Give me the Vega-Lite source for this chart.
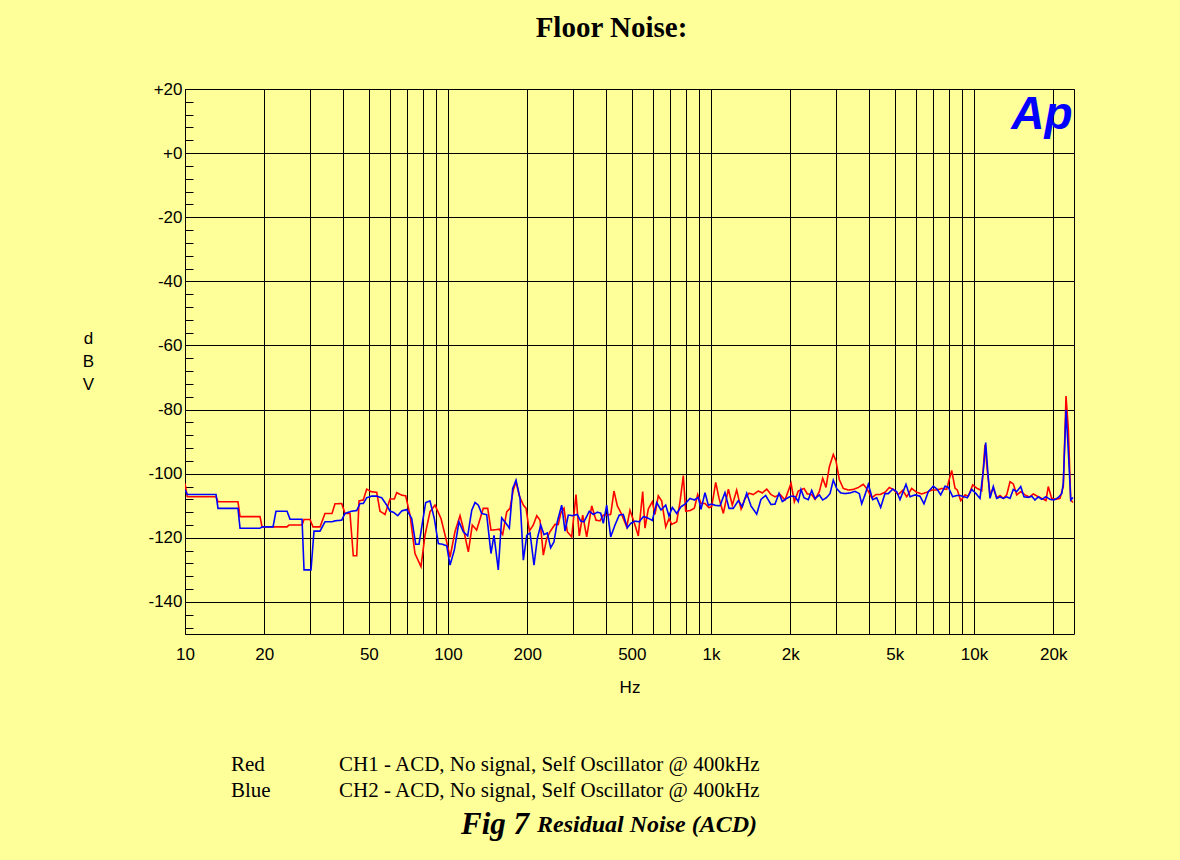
{
  "$schema": "https://vega.github.io/schema/vega-lite/v6.json",
  "autosize": "none",
  "width": 889,
  "height": 545,
  "padding": {"left": 185, "top": 89, "right": 106, "bottom": 226},
  "background": "#FFFF99",
  "title": {"text": "Floor Noise:", "font": "Liberation Serif", "fontSize": 29, "fontWeight": "bold", "color": "black", "anchor": "middle", "frame": "group", "offset": 37, "dx": -18},
  "config": {
    "view": {"stroke": "black", "strokeWidth": 1, "fill": "#FFFF99"},
    "axis": {"labelFont": "Liberation Sans", "labelFontSize": 17, "labelColor": "black", "titleFont": "Liberation Sans", "titleFontSize": 17, "titleFontWeight": "normal", "titleColor": "black", "domainColor": "black", "gridColor": "black", "gridWidth": 1, "gridOpacity": 1, "tickColor": "black"},
    "legend": {"padding": 0}
  },
  "layer": [
    {
      "data": {"values": [
        {"ch":"CH1","f":10,"db":-103},{"ch":"CH1","f":10.2,"db":-107.2},{"ch":"CH1","f":13.12,"db":-107.2},{"ch":"CH1","f":13.35,"db":-108.75},{"ch":"CH1","f":15.9,"db":-108.75},{"ch":"CH1","f":16.19,"db":-113.4},{"ch":"CH1","f":19.29,"db":-113.4},{"ch":"CH1","f":19.63,"db":-116.6},{"ch":"CH1","f":24.43,"db":-116.6},{"ch":"CH1","f":24.86,"db":-116},{"ch":"CH1","f":27.86,"db":-116},{"ch":"CH1","f":28.35,"db":-114.3},{"ch":"CH1","f":29.88,"db":-114.3},{"ch":"CH1","f":30.67,"db":-116.6},{"ch":"CH1","f":32.61,"db":-116.6},{"ch":"CH1","f":34.07,"db":-112.4},{"ch":"CH1","f":36.22,"db":-112.4},{"ch":"CH1","f":37.18,"db":-109.4},{"ch":"CH1","f":39.42,"db":-109.3},{"ch":"CH1","f":40.58,"db":-112.4},{"ch":"CH1","f":42.4,"db":-112.4},{"ch":"CH1","f":43.64,"db":-125.6},{"ch":"CH1","f":44.97,"db":-125.6},{"ch":"CH1","f":45.88,"db":-108.5},{"ch":"CH1","f":47.64,"db":-108.2},{"ch":"CH1","f":49.08,"db":-104.8},{"ch":"CH1","f":50.96,"db":-105.6},{"ch":"CH1","f":53.57,"db":-105.8},{"ch":"CH1","f":55.14,"db":-111.7},{"ch":"CH1","f":57.61,"db":-112.7},{"ch":"CH1","f":60.19,"db":-107.9},{"ch":"CH1","f":62.5,"db":-107.9},{"ch":"CH1","f":63.83,"db":-105.9},{"ch":"CH1","f":66.68,"db":-106.7},{"ch":"CH1","f":69.05,"db":-106.9},{"ch":"CH1","f":71.7,"db":-112.9},{"ch":"CH1","f":74.9,"db":-124.9},{"ch":"CH1","f":78.94,"db":-129},{"ch":"CH1","f":81.75,"db":-119.2},{"ch":"CH1","f":85.42,"db":-111.9},{"ch":"CH1","f":89.25,"db":-109.8},{"ch":"CH1","f":94.07,"db":-114},{"ch":"CH1","f":98.88,"db":-121.25},{"ch":"CH1","f":101.8,"db":-126},{"ch":"CH1","f":106.3,"db":-118.1},{"ch":"CH1","f":111.1,"db":-113.1},{"ch":"CH1","f":114.3,"db":-117},{"ch":"CH1","f":119.5,"db":-124.4},{"ch":"CH1","f":123.7,"db":-116},{"ch":"CH1","f":128.5,"db":-117.6},{"ch":"CH1","f":136.2,"db":-110.8},{"ch":"CH1","f":141.6,"db":-110.8},{"ch":"CH1","f":145.7,"db":-117.6},{"ch":"CH1","f":150.9,"db":-117.5},{"ch":"CH1","f":156.7,"db":-117.3},{"ch":"CH1","f":161.4,"db":-119},{"ch":"CH1","f":167.2,"db":-111.9},{"ch":"CH1","f":172.1,"db":-110.8},{"ch":"CH1","f":177.1,"db":-105.1},{"ch":"CH1","f":181.4,"db":-102.5},{"ch":"CH1","f":186.7,"db":-106.9},{"ch":"CH1","f":193.4,"db":-109.8},{"ch":"CH1","f":198.1,"db":-110.8},{"ch":"CH1","f":203.8,"db":-117.9},{"ch":"CH1","f":211,"db":-116},{"ch":"CH1","f":217.5,"db":-113.1},{"ch":"CH1","f":223.8,"db":-114.5},{"ch":"CH1","f":230.4,"db":-125.4},{"ch":"CH1","f":237.3,"db":-120.2},{"ch":"CH1","f":244.2,"db":-118.1},{"ch":"CH1","f":255.1,"db":-115.8},{"ch":"CH1","f":262.6,"db":-115.8},{"ch":"CH1","f":268.2,"db":-112.4},{"ch":"CH1","f":276.1,"db":-110.8},{"ch":"CH1","f":284.2,"db":-118.1},{"ch":"CH1","f":295.3,"db":-119.7},{"ch":"CH1","f":306.7,"db":-106.5},{"ch":"CH1","f":315.6,"db":-119.4},{"ch":"CH1","f":325.2,"db":-112.9},{"ch":"CH1","f":336.8,"db":-119.7},{"ch":"CH1","f":351.9,"db":-110},{"ch":"CH1","f":365.4,"db":-114.5},{"ch":"CH1","f":378.4,"db":-114.7},{"ch":"CH1","f":389.5,"db":-112.9},{"ch":"CH1","f":401.2,"db":-112.9},{"ch":"CH1","f":415.5,"db":-112.7},{"ch":"CH1","f":427.7,"db":-105.4},{"ch":"CH1","f":440.3,"db":-110},{"ch":"CH1","f":457.6,"db":-112.7},{"ch":"CH1","f":478.1,"db":-116.6},{"ch":"CH1","f":492,"db":-111.4},{"ch":"CH1","f":509.5,"db":-115},{"ch":"CH1","f":529.1,"db":-119.4},{"ch":"CH1","f":549.9,"db":-105.6},{"ch":"CH1","f":561,"db":-117},{"ch":"CH1","f":577.6,"db":-111},{"ch":"CH1","f":598.2,"db":-108.75},{"ch":"CH1","f":612.5,"db":-112.7},{"ch":"CH1","f":630.4,"db":-106.9},{"ch":"CH1","f":649.4,"db":-108.5},{"ch":"CH1","f":672.7,"db":-116.6},{"ch":"CH1","f":692.3,"db":-114},{"ch":"CH1","f":708.9,"db":-115.8},{"ch":"CH1","f":740.6,"db":-115},{"ch":"CH1","f":762.3,"db":-108.75},{"ch":"CH1","f":784.7,"db":-100.6},{"ch":"CH1","f":801.3,"db":-111.7},{"ch":"CH1","f":832.1,"db":-111.5},{"ch":"CH1","f":864,"db":-110.8},{"ch":"CH1","f":890.1,"db":-106.5},{"ch":"CH1","f":916.2,"db":-109.3},{"ch":"CH1","f":948.8,"db":-109.3},{"ch":"CH1","f":982.6,"db":-110.6},{"ch":"CH1","f":1006,"db":-110.3},{"ch":"CH1","f":1042,"db":-102.7},{"ch":"CH1","f":1073,"db":-107.7},{"ch":"CH1","f":1114,"db":-112.4},{"ch":"CH1","f":1164,"db":-104.8},{"ch":"CH1","f":1205,"db":-109.8},{"ch":"CH1","f":1252,"db":-105.1},{"ch":"CH1","f":1301,"db":-111},{"ch":"CH1","f":1347,"db":-107.7},{"ch":"CH1","f":1395,"db":-106.1},{"ch":"CH1","f":1448,"db":-106.5},{"ch":"CH1","f":1513,"db":-105.4},{"ch":"CH1","f":1567,"db":-106},{"ch":"CH1","f":1629,"db":-104.8},{"ch":"CH1","f":1691,"db":-106.5},{"ch":"CH1","f":1751,"db":-107.2},{"ch":"CH1","f":1830,"db":-106.5},{"ch":"CH1","f":1911,"db":-108.2},{"ch":"CH1","f":2015,"db":-103},{"ch":"CH1","f":2074,"db":-108.75},{"ch":"CH1","f":2147,"db":-105.4},{"ch":"CH1","f":2258,"db":-104.6},{"ch":"CH1","f":2324,"db":-106.3},{"ch":"CH1","f":2415,"db":-106.5},{"ch":"CH1","f":2486,"db":-108},{"ch":"CH1","f":2581,"db":-105.6},{"ch":"CH1","f":2659,"db":-101.4},{"ch":"CH1","f":2737,"db":-104.3},{"ch":"CH1","f":2817,"db":-97.9},{"ch":"CH1","f":2917,"db":-94},{"ch":"CH1","f":2987,"db":-96},{"ch":"CH1","f":3074,"db":-101.8},{"ch":"CH1","f":3184,"db":-104.6},{"ch":"CH1","f":3327,"db":-105.1},{"ch":"CH1","f":3476,"db":-104.9},{"ch":"CH1","f":3631,"db":-104.3},{"ch":"CH1","f":3794,"db":-103.3},{"ch":"CH1","f":3929,"db":-104.9},{"ch":"CH1","f":4083,"db":-107.5},{"ch":"CH1","f":4240,"db":-106.5},{"ch":"CH1","f":4391,"db":-106.5},{"ch":"CH1","f":4587,"db":-105.8},{"ch":"CH1","f":4763,"db":-104.3},{"ch":"CH1","f":4933,"db":-104.9},{"ch":"CH1","f":5154,"db":-106.5},{"ch":"CH1","f":5357,"db":-105.2},{"ch":"CH1","f":5548,"db":-107.2},{"ch":"CH1","f":5796,"db":-104.6},{"ch":"CH1","f":6055,"db":-105.8},{"ch":"CH1","f":6326,"db":-106.3},{"ch":"CH1","f":6609,"db":-105.8},{"ch":"CH1","f":6905,"db":-105.1},{"ch":"CH1","f":7214,"db":-105.1},{"ch":"CH1","f":7537,"db":-104.6},{"ch":"CH1","f":7874,"db":-104.9},{"ch":"CH1","f":8056,"db":-101.7},{"ch":"CH1","f":8226,"db":-99},{"ch":"CH1","f":8469,"db":-104.5},{"ch":"CH1","f":8641,"db":-105.1},{"ch":"CH1","f":8901,"db":-108.4},{"ch":"CH1","f":9243,"db":-106.6},{"ch":"CH1","f":9513,"db":-107},{"ch":"CH1","f":9888,"db":-103.5},{"ch":"CH1","f":10240,"db":-104.5},{"ch":"CH1","f":10698,"db":-105.3},{"ch":"CH1","f":11010,"db":-91},{"ch":"CH1","f":11235,"db":-99},{"ch":"CH1","f":11502,"db":-106.6},{"ch":"CH1","f":11841,"db":-104.5},{"ch":"CH1","f":12198,"db":-107.5},{"ch":"CH1","f":12557,"db":-106.8},{"ch":"CH1","f":12925,"db":-107.7},{"ch":"CH1","f":13316,"db":-106.6},{"ch":"CH1","f":13707,"db":-102.5},{"ch":"CH1","f":14108,"db":-103.2},{"ch":"CH1","f":14536,"db":-106.6},{"ch":"CH1","f":15054,"db":-105.6},{"ch":"CH1","f":15629,"db":-106.6},{"ch":"CH1","f":16229,"db":-107.3},{"ch":"CH1","f":16807,"db":-106.3},{"ch":"CH1","f":17405,"db":-107},{"ch":"CH1","f":18087,"db":-107.7},{"ch":"CH1","f":18783,"db":-108.4},{"ch":"CH1","f":19163,"db":-104},{"ch":"CH1","f":19742,"db":-107.7},{"ch":"CH1","f":20502,"db":-108},{"ch":"CH1","f":21232,"db":-107.7},{"ch":"CH1","f":21853,"db":-104},{"ch":"CH1","f":22379,"db":-75.8},{"ch":"CH1","f":22837,"db":-86},{"ch":"CH1","f":23321,"db":-108.2},{"ch":"CH1","f":23791,"db":-109},
        {"ch":"CH2","f":10,"db":-105},{"ch":"CH2","f":10.2,"db":-106.5},{"ch":"CH2","f":13.12,"db":-106.5},{"ch":"CH2","f":13.35,"db":-110.8},{"ch":"CH2","f":15.9,"db":-110.8},{"ch":"CH2","f":16.19,"db":-117},{"ch":"CH2","f":19.29,"db":-117},{"ch":"CH2","f":19.63,"db":-116.6},{"ch":"CH2","f":21.61,"db":-116.6},{"ch":"CH2","f":22.18,"db":-111.7},{"ch":"CH2","f":24.43,"db":-111.7},{"ch":"CH2","f":25.08,"db":-114.2},{"ch":"CH2","f":27.86,"db":-114.2},{"ch":"CH2","f":28.35,"db":-130},{"ch":"CH2","f":30.14,"db":-130},{"ch":"CH2","f":30.94,"db":-117.9},{"ch":"CH2","f":32.61,"db":-117.9},{"ch":"CH2","f":34.07,"db":-115},{"ch":"CH2","f":36.22,"db":-115},{"ch":"CH2","f":37.18,"db":-114.7},{"ch":"CH2","f":39.42,"db":-114.5},{"ch":"CH2","f":40.58,"db":-112.4},{"ch":"CH2","f":43.03,"db":-111.7},{"ch":"CH2","f":44.97,"db":-111.5},{"ch":"CH2","f":46.28,"db":-109.3},{"ch":"CH2","f":47.64,"db":-109.3},{"ch":"CH2","f":49.08,"db":-107.5},{"ch":"CH2","f":51.27,"db":-107},{"ch":"CH2","f":53.57,"db":-107},{"ch":"CH2","f":55.97,"db":-107.5},{"ch":"CH2","f":58.47,"db":-109.8},{"ch":"CH2","f":60.19,"db":-111.7},{"ch":"CH2","f":61.95,"db":-112},{"ch":"CH2","f":64.38,"db":-113.1},{"ch":"CH2","f":66.68,"db":-111.6},{"ch":"CH2","f":69.66,"db":-111.2},{"ch":"CH2","f":72.78,"db":-114},{"ch":"CH2","f":75.37,"db":-122},{"ch":"CH2","f":77.57,"db":-122},{"ch":"CH2","f":79.85,"db":-115.5},{"ch":"CH2","f":82.26,"db":-109},{"ch":"CH2","f":85.42,"db":-108.5},{"ch":"CH2","f":88.71,"db":-114},{"ch":"CH2","f":91.87,"db":-121.8},{"ch":"CH2","f":95.13,"db":-122},{"ch":"CH2","f":98.88,"db":-122.5},{"ch":"CH2","f":101.8,"db":-128.5},{"ch":"CH2","f":105.7,"db":-123.8},{"ch":"CH2","f":110.1,"db":-115},{"ch":"CH2","f":114.3,"db":-118.1},{"ch":"CH2","f":118.8,"db":-119.4},{"ch":"CH2","f":123.1,"db":-111.4},{"ch":"CH2","f":126.7,"db":-109},{"ch":"CH2","f":130.4,"db":-109.8},{"ch":"CH2","f":134.3,"db":-112.4},{"ch":"CH2","f":140.3,"db":-112.8},{"ch":"CH2","f":145.7,"db":-124.9},{"ch":"CH2","f":149.6,"db":-119.2},{"ch":"CH2","f":155.3,"db":-130},{"ch":"CH2","f":160,"db":-113.75},{"ch":"CH2","f":166.2,"db":-115.5},{"ch":"CH2","f":171.1,"db":-117},{"ch":"CH2","f":176.2,"db":-104.6},{"ch":"CH2","f":181.4,"db":-102},{"ch":"CH2","f":187.9,"db":-107.7},{"ch":"CH2","f":193.4,"db":-127},{"ch":"CH2","f":199.3,"db":-119.2},{"ch":"CH2","f":205.1,"db":-118.5},{"ch":"CH2","f":212.3,"db":-128.5},{"ch":"CH2","f":218.6,"db":-120.2},{"ch":"CH2","f":225.2,"db":-116},{"ch":"CH2","f":231.7,"db":-119},{"ch":"CH2","f":238.5,"db":-118.5},{"ch":"CH2","f":245.7,"db":-123.1},{"ch":"CH2","f":252.9,"db":-121.25},{"ch":"CH2","f":260.3,"db":-115},{"ch":"CH2","f":270.6,"db":-109.8},{"ch":"CH2","f":278.6,"db":-117.9},{"ch":"CH2","f":286.7,"db":-112.9},{"ch":"CH2","f":297.9,"db":-113.1},{"ch":"CH2","f":310.1,"db":-112.7},{"ch":"CH2","f":319.5,"db":-114.8},{"ch":"CH2","f":328.9,"db":-115},{"ch":"CH2","f":344.6,"db":-111.7},{"ch":"CH2","f":356.9,"db":-112.7},{"ch":"CH2","f":369.6,"db":-112},{"ch":"CH2","f":380.7,"db":-112.3},{"ch":"CH2","f":389.5,"db":-115.5},{"ch":"CH2","f":401.2,"db":-109.8},{"ch":"CH2","f":415.5,"db":-119.7},{"ch":"CH2","f":431.5,"db":-116},{"ch":"CH2","f":448,"db":-112.9},{"ch":"CH2","f":464,"db":-112.7},{"ch":"CH2","f":480.6,"db":-116.9},{"ch":"CH2","f":495.1,"db":-115.5},{"ch":"CH2","f":514,"db":-114.8},{"ch":"CH2","f":533.8,"db":-115},{"ch":"CH2","f":552.8,"db":-113.4},{"ch":"CH2","f":569.5,"db":-113.7},{"ch":"CH2","f":581.2,"db":-114},{"ch":"CH2","f":598.2,"db":-114.6},{"ch":"CH2","f":621.6,"db":-109},{"ch":"CH2","f":645.5,"db":-111.3},{"ch":"CH2","f":672.7,"db":-109.8},{"ch":"CH2","f":692.3,"db":-113.2},{"ch":"CH2","f":712.7,"db":-110.5},{"ch":"CH2","f":740.6,"db":-112.4},{"ch":"CH2","f":769,"db":-110.3},{"ch":"CH2","f":796.4,"db":-109.5},{"ch":"CH2","f":832.1,"db":-107.7},{"ch":"CH2","f":864,"db":-108.2},{"ch":"CH2","f":894.8,"db":-107.4},{"ch":"CH2","f":916.2,"db":-111.1},{"ch":"CH2","f":948.8,"db":-105.9},{"ch":"CH2","f":976.5,"db":-109.8},{"ch":"CH2","f":1006,"db":-109.5},{"ch":"CH2","f":1042,"db":-109.9},{"ch":"CH2","f":1082,"db":-110},{"ch":"CH2","f":1130,"db":-105.9},{"ch":"CH2","f":1171,"db":-110.8},{"ch":"CH2","f":1216,"db":-110.8},{"ch":"CH2","f":1270,"db":-108.4},{"ch":"CH2","f":1315,"db":-110.3},{"ch":"CH2","f":1367,"db":-106.1},{"ch":"CH2","f":1420,"db":-110.1},{"ch":"CH2","f":1492,"db":-112.6},{"ch":"CH2","f":1549,"db":-108},{"ch":"CH2","f":1614,"db":-106.8},{"ch":"CH2","f":1691,"db":-109.6},{"ch":"CH2","f":1751,"db":-109.5},{"ch":"CH2","f":1814,"db":-106.1},{"ch":"CH2","f":1867,"db":-108.7},{"ch":"CH2","f":1940,"db":-107.7},{"ch":"CH2","f":2015,"db":-107},{"ch":"CH2","f":2086,"db":-107.1},{"ch":"CH2","f":2147,"db":-108.7},{"ch":"CH2","f":2199,"db":-104.9},{"ch":"CH2","f":2258,"db":-107.5},{"ch":"CH2","f":2344,"db":-108.1},{"ch":"CH2","f":2415,"db":-105.2},{"ch":"CH2","f":2486,"db":-107.8},{"ch":"CH2","f":2581,"db":-106.6},{"ch":"CH2","f":2659,"db":-108.2},{"ch":"CH2","f":2754,"db":-107.4},{"ch":"CH2","f":2835,"db":-106.2},{"ch":"CH2","f":2917,"db":-102},{"ch":"CH2","f":3005,"db":-104.6},{"ch":"CH2","f":3113,"db":-106},{"ch":"CH2","f":3232,"db":-106.2},{"ch":"CH2","f":3377,"db":-106},{"ch":"CH2","f":3528,"db":-105.5},{"ch":"CH2","f":3663,"db":-106.2},{"ch":"CH2","f":3741,"db":-109.4},{"ch":"CH2","f":3851,"db":-106.6},{"ch":"CH2","f":3963,"db":-103.3},{"ch":"CH2","f":4119,"db":-108.1},{"ch":"CH2","f":4266,"db":-107.5},{"ch":"CH2","f":4417,"db":-110.5},{"ch":"CH2","f":4587,"db":-106.2},{"ch":"CH2","f":4722,"db":-106.2},{"ch":"CH2","f":4908,"db":-104.8},{"ch":"CH2","f":5082,"db":-105.6},{"ch":"CH2","f":5231,"db":-108.1},{"ch":"CH2","f":5513,"db":-103.3},{"ch":"CH2","f":5711,"db":-107.2},{"ch":"CH2","f":5966,"db":-106.6},{"ch":"CH2","f":6233,"db":-107},{"ch":"CH2","f":6454,"db":-109.4},{"ch":"CH2","f":6702,"db":-105.6},{"ch":"CH2","f":7001,"db":-103.9},{"ch":"CH2","f":7252,"db":-104.9},{"ch":"CH2","f":7471,"db":-106.6},{"ch":"CH2","f":7757,"db":-103.9},{"ch":"CH2","f":7985,"db":-104.2},{"ch":"CH2","f":8299,"db":-107.2},{"ch":"CH2","f":8595,"db":-106.8},{"ch":"CH2","f":8848,"db":-106.8},{"ch":"CH2","f":9163,"db":-107.2},{"ch":"CH2","f":9431,"db":-107.5},{"ch":"CH2","f":9801,"db":-104.9},{"ch":"CH2","f":10177,"db":-106.2},{"ch":"CH2","f":10539,"db":-107.7},{"ch":"CH2","f":10849,"db":-99},{"ch":"CH2","f":11079,"db":-90.3},{"ch":"CH2","f":11274,"db":-99},{"ch":"CH2","f":11502,"db":-107.7},{"ch":"CH2","f":11841,"db":-104},{"ch":"CH2","f":12198,"db":-107.7},{"ch":"CH2","f":12557,"db":-107.2},{"ch":"CH2","f":12925,"db":-107.7},{"ch":"CH2","f":13316,"db":-107.2},{"ch":"CH2","f":13707,"db":-107.7},{"ch":"CH2","f":14108,"db":-104.9},{"ch":"CH2","f":14536,"db":-105.6},{"ch":"CH2","f":15054,"db":-104},{"ch":"CH2","f":15493,"db":-107.2},{"ch":"CH2","f":16088,"db":-107.4},{"ch":"CH2","f":16573,"db":-107},{"ch":"CH2","f":17057,"db":-108.2},{"ch":"CH2","f":17558,"db":-107.2},{"ch":"CH2","f":18087,"db":-108},{"ch":"CH2","f":18783,"db":-107.2},{"ch":"CH2","f":19453,"db":-108},{"ch":"CH2","f":20147,"db":-108.2},{"ch":"CH2","f":20918,"db":-107.4},{"ch":"CH2","f":21553,"db":-106.2},{"ch":"CH2","f":21853,"db":-103},{"ch":"CH2","f":22379,"db":-80.1},{"ch":"CH2","f":22837,"db":-93},{"ch":"CH2","f":23321,"db":-108.2},{"ch":"CH2","f":23791,"db":-107.4}
      ]},
      "mark": {"type": "line", "clip": true},
      "encoding": {
        "x": {"field": "f", "type": "quantitative",
          "scale": {"type": "log", "domain": [10, 24000], "nice": false},
          "axis": {"title": "Hz", "titlePadding": 17, "ticks": false, "labelPadding": 12, "labelFlush": false, "labelOverlap": false, "domain": false, "tickCount": 500,
            "values": [10,20,30,40,50,60,70,80,90,100,200,300,400,500,600,700,800,900,1000,2000,3000,4000,5000,6000,7000,8000,9000,10000,20000],
            "labelExpr": "indexof([10,20,50,100,200,500,1000,2000,5000,10000,20000], datum.value) >= 0 ? (datum.value >= 1000 ? (datum.value/1000) + 'k' : '' + datum.value) : ''"}},
        "y": {"field": "db", "type": "quantitative",
          "scale": {"domain": [-150, 20], "nice": false, "zero": false},
          "axis": {"title": ["d", "B", "V"], "titleAngle": 0, "titleAlign": "center", "titleBaseline": "top", "titleX": -97, "titleY": 241, "titleLineHeight": 23, "tickCount": 500,
            "values": [20,16,12,8,4,0,-4,-8,-12,-16,-20,-24,-28,-32,-36,-40,-44,-48,-52,-56,-60,-64,-68,-72,-76,-80,-84,-88,-92,-96,-100,-104,-108,-112,-116,-120,-124,-128,-132,-136,-140,-144,-148],
            "tickSize": -8, "labelPadding": 11, "labelOverlap": false, "domain": false,
            "gridOpacity": {"condition": {"test": "datum.value % 20 == 0", "value": 1}, "value": 0},
            "labelExpr": "datum.value % 20 == 0 ? (datum.value >= 0 ? '+' + datum.value : '-' + abs(datum.value)) : ''"}},
        "color": {"field": "ch", "type": "nominal",
          "scale": {"domain": ["CH1", "CH2"], "range": ["#FF0000", "#0000FF"]},
          "legend": {"orient": "none", "legendX": 25, "legendY": 665, "title": null,
            "labelFont": "Liberation Serif", "labelFontSize": 21, "labelColor": "black", "labelLimit": 1000, "labelOffset": 0,
            "labelExpr": "datum.label == 'CH1' ? 'Red' : 'Blue'",
            "symbolSize": 0, "symbolStrokeWidth": 0, "symbolOpacity": 0, "rowPadding": 4}},
        "strokeWidth": {"field": "ch", "type": "ordinal",
          "scale": {"range": [1.6, 1.6]},
          "legend": {"orient": "none", "legendX": 133, "legendY": 665, "title": null,
            "labelFont": "Liberation Serif", "labelFontSize": 21, "labelColor": "black", "labelLimit": 1000, "labelOffset": 0,
            "labelExpr": "datum.label + ' - ACD, No signal, Self Oscillator @ 400kHz'",
            "symbolSize": 0, "symbolStrokeWidth": 0, "symbolOpacity": 0, "rowPadding": 4}},
        "strokeDash": {"datum": "Residual Noise (ACD)", "type": "nominal",
          "scale": {"range": [[1, 0]]},
          "legend": {"orient": "none", "legendX": 276, "legendY": 724,
            "title": "Fig 7", "titleOrient": "left", "titleFont": "Liberation Serif", "titleFontSize": 31, "titleFontStyle": "italic", "titleFontWeight": "bold", "titleColor": "black", "titlePadding": -17,
            "labelFont": "Liberation Serif", "labelFontSize": 24, "labelFontStyle": "italic", "labelFontWeight": "bold", "labelColor": "black", "labelLimit": 1000, "labelOffset": 0,
            "symbolSize": 0, "symbolStrokeWidth": 0, "symbolOpacity": 0}}
      }
    },
    {
      "data": {"values": [{}]},
      "mark": {"type": "text", "text": "Ap", "font": "Liberation Sans", "fontSize": 46, "fontStyle": "italic", "fontWeight": "bold", "color": "#0000FF", "align": "center", "baseline": "middle"},
      "encoding": {
        "x": {"datum": 18140, "type": "quantitative"},
        "y": {"datum": 11.9, "type": "quantitative"}
      }
    }
  ]
}
